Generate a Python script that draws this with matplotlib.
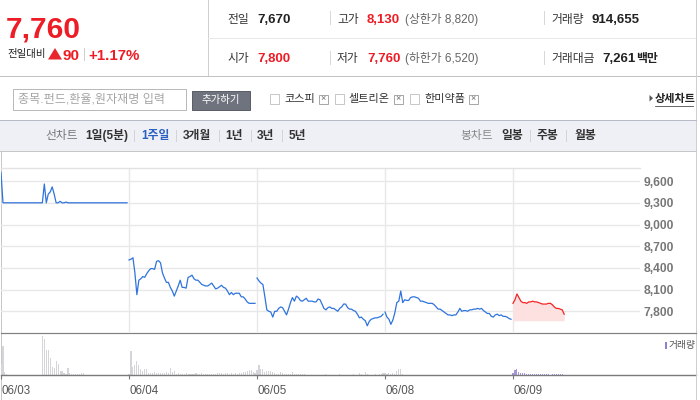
import matplotlib
matplotlib.use('Agg')
import matplotlib.pyplot as plt
from matplotlib.patches import Rectangle, Polygon
from matplotlib.lines import Line2D
import numpy as np

plt.rcParams['font.family'] = ['Liberation Sans', 'Noto Sans CJK KR', 'DejaVu Sans']

# ---------------- data ----------------
day_labels = ['06/03', '06/04', '06/05', '06/08', '06/09']
prev_close = 7670
price_ticks = [7800, 8100, 8400, 8700, 9000, 9300, 9600]

price_0603 = [9720, 9300, 9300, 9300, 9300, 9300, 9300, 9300, 9300, 9300, 9300, 9300, 9300,
              9300, 9300, 9300, 9300, 9300, 9300, 9300, 9300, 9300, 9560, 9300, 9420, 9450,
              9520, 9420, 9300, 9300, 9320, 9300, 9300, 9310, 9300, 9300, 9300, 9300, 9300,
              9300, 9300, 9300, 9300, 9300, 9300, 9300, 9300, 9300, 9300, 9300, 9300, 9300,
              9300, 9300, 9300, 9300, 9300, 9300, 9300, 9300, 9300, 9300, 9300, 9300, 9300]
price_0604 = [8510, 8520, 8540, 8330, 8030, 8230, 8250, 8280, 8270, 8320, 8360, 8390, 8390,
              8380, 8490, 8500, 8470, 8330, 8260, 8200, 8200, 8130, 8080, 8010, 8080, 8150,
              8230, 8130, 8130, 8120, 8270, 8280, 8300, 8250, 8230, 8230, 8200, 8170, 8160,
              8150, 8150, 8170, 8190, 8150, 8110, 8120, 8140, 8160, 8130, 8120, 8080, 8030,
              8060, 8030, 8050, 8050, 8050, 8000, 8000, 7970, 7930, 7910, 7910, 7910, 7910]
price_0605 = [8260, 8220, 8190, 8170, 8000, 7820, 7800, 7790, 7720, 7800, 7800, 7840, 7860,
              7850, 7800, 7750, 7830, 7920, 7990, 7940, 8010, 7990, 7950, 7940, 7960, 7980,
              7940, 7940, 7940, 7930, 7930, 7970, 7960, 7900, 7840, 7820, 7850, 7860, 7840,
              7840, 7820, 7800, 7840, 7860, 7900, 7900, 7850, 7830, 7830, 7810, 7800, 7760,
              7710, 7720, 7690, 7670, 7600, 7660, 7690, 7700, 7710, 7710, 7720, 7730, 7760]
price_0608 = [7790, 7720, 7690, 7620, 7680, 7780, 7920, 7940, 8080, 7920, 7960, 7950, 7950,
              7990, 8000, 8000, 7990, 7980, 7940, 7940, 7930, 7920, 7910, 7910, 7910, 7890,
              7860, 7830, 7830, 7810, 7790, 7770, 7750, 7750, 7740, 7750, 7750, 7790, 7840,
              7800, 7810, 7810, 7800, 7820, 7820, 7830, 7830, 7840, 7830, 7840, 7810, 7790,
              7770, 7770, 7730, 7720, 7750, 7760, 7740, 7750, 7730, 7730, 7720, 7700, 7690]
price_0609 = [7910, 7960, 8040, 7990, 7940, 7920, 7920, 7910, 7930, 7930, 7940, 7930, 7930,
              7920, 7910, 7900, 7900, 7900, 7910, 7910, 7890, 7860, 7840, 7840, 7830, 7820,
              7760]

# volume (thousand shares)
vol_0603 = [175, 440, 50, 15, 10, 10, 8, 10, 10, 8, 10, 10, 10, 8, 10, 10, 10, 8, 10, 10, 10,
            590, 540, 375, 375, 260, 125, 110, 210, 165, 60, 60, 35, 15, 110, 30, 15, 15, 15,
            15, 15, 40, 30, 10, 10, 8, 10, 10, 8, 10, 10, 10, 8, 10, 10, 8, 10, 10, 10, 8,
            10, 10, 8, 10, 10]
vol_0604 = [15, 360, 125, 160, 215, 150, 100, 60, 90, 90, 40, 35, 30, 45, 40, 30, 35, 40, 30,
            50, 35, 110, 45, 60, 25, 30, 25, 20, 25, 30, 20, 25, 20, 25, 30, 25, 20, 40, 15,
            20, 15, 20, 15, 20, 15, 30, 35, 40, 25, 30, 40, 25, 35, 25, 30, 25, 35, 30, 45,
            50, 60, 85, 75, 50, 30]
vol_0605 = [85, 160, 100, 100, 50, 65, 70, 60, 50, 40, 25, 25, 50, 30, 20, 15, 15, 20, 50, 15,
            15, 15, 20, 25, 15, 10, 10, 10, 10, 10, 10, 10, 12, 10, 10, 15, 10, 10, 12, 10,
            10, 10, 15, 10, 10, 12, 10, 10, 10, 15, 10, 10, 35, 15, 10, 55, 20, 10, 10, 10,
            15, 10, 15, 20, 30]
vol_0608 = [30, 25, 40, 25, 30, 20, 65, 100, 100, 15, 8, 8, 10, 8, 6, 8, 8, 10, 8, 8, 6, 8,
            8, 8, 10, 8, 8, 6, 8, 8, 8, 10, 8, 8, 6, 8, 8, 8, 10, 8, 8, 6, 8, 8, 8, 10, 8, 8,
            6, 8, 8, 8, 10, 8, 8, 6, 8, 8, 8, 10, 8, 8, 6, 8, 8]
vol_0609 = [40, 75, 100, 55, 35, 30, 30, 25, 22, 22, 20, 22, 20, 22, 20, 22, 20, 15, 15, 12,
            15, 18, 20, 15, 18, 25, 10]

prices = [price_0603, price_0604, price_0605, price_0608, price_0609]
volumes = [vol_0603, vol_0604, vol_0605, vol_0608, vol_0609]
SLOTS = 65  # intraday samples per full session

# ---------------- figure helpers ----------------
W, H = 700, 400
PX = 0.72
fig = plt.figure(figsize=(7, 4), dpi=100)
fig.patch.set_facecolor('white')
RED = '#ee1c25'


def fx(x):
    return x / W


def fy(y):
    return 1 - y / H


def text(x, y, s, size, color='#333333', weight='normal', ha='left', va='center'):
    fig.text(fx(x), fy(y), s, fontsize=size, color=color, fontweight=weight, ha=ha, va=va)


def rect(x0, y0, x1, y1, fc='none', ec='none', lw=1.0, z=0):
    fig.add_artist(Rectangle((fx(x0), fy(y1)), (x1 - x0) / W, (y1 - y0) / H,
                             transform=fig.transFigure, facecolor=fc, edgecolor=ec,
                             linewidth=lw * PX, zorder=z))


def line(x0, y0, x1, y1, color, lw=1.0, z=1):
    fig.add_artist(Line2D([fx(x0), fx(x1)], [fy(y0), fy(y1)], transform=fig.transFigure,
                          color=color, linewidth=lw * PX, zorder=z))


def poly(pts, color):
    fig.add_artist(Polygon([(fx(a), fy(b)) for a, b in pts], closed=True,
                           transform=fig.transFigure, facecolor=color, edgecolor='none'))


# ---------------- header ----------------
line(208, 0, 208, 76, '#cfcfcf')
line(208, 37.5, 696, 37.5, '#e8e8e8')
line(0, 76, 700, 76, '#c2c2c2')
line(696, 0, 696, 400, '#cfcfcf')

text(5.5, 37.7, '7,760', 21.5, RED, 'bold', va='baseline')
text(7, 53.5, '전일대비', 7.5, '#222222')
poly([(48, 59.5), (62, 59.5), (55, 48)], '#e8262d')
text(62.5, 59.5, '90', 11, RED, 'bold', va='baseline')
line(83.5, 48, 83.5, 60, '#d0d0d0')
text(88.5, 59.5, '+1.17%', 10.8, RED, 'bold', va='baseline')

b1, b2 = 22.7, 62.3
text(227, b1, '전일', 8.5, '#333333', va='baseline')
text(257, b1, '7,670', 9.5, '#222222', 'bold', va='baseline')
text(227, b2, '시가', 8.5, '#333333', va='baseline')
text(257, b2, '7,800', 9.5, RED, 'bold', va='baseline')
line(330, 11, 330, 24, '#d8d8d8')
line(330, 51, 330, 64, '#d8d8d8')
text(337, b1, '고가', 8.5, '#333333', va='baseline')
text(367, b1, '8,130', 9.5, RED, 'bold', va='baseline')
text(405, b1, '(상한가 8,820)', 8.5, '#666666', va='baseline')
text(337, b2, '저가', 8.5, '#333333', va='baseline')
text(367, b2, '7,760', 9.5, RED, 'bold', va='baseline')
text(405, b2, '(하한가 6,520)', 8.5, '#666666', va='baseline')
line(544, 11, 544, 24, '#d8d8d8')
line(544, 51, 544, 64, '#d8d8d8')
text(551, b1, '거래량', 8.5, '#333333', va='baseline')
text(591, b1, '914,655', 9.5, '#222222', 'bold', va='baseline')
text(551, b2, '거래대금', 8.5, '#333333', va='baseline')
text(602, b2, '7,261', 9.5, '#222222', 'bold', va='baseline')
text(636, b2, '백만', 8.5, '#222222', 'bold', va='baseline')

# ---------------- search row ----------------
rect(12.5, 89.5, 185.5, 109.5, fc='white', ec='#b9b9b9')
text(18, 99.5, '종목.펀드,환율,원자재명 입력', 8.7, '#a5a5a5')
rect(191.5, 90.5, 249.5, 109.5, fc='#6f737d', ec='#5b5f68')
text(220.5, 100, '추가하기', 7.5, 'white', ha='center')


def checkbox(x):
    rect(x, 94.5, x + 9.5, 104, fc='white', ec='#c8c8c8')


def xbox(x):
    rect(x, 94.5, x + 9.5, 103.5, fc='white', ec='#a8a8a8')
    text(x + 4.8, 99, '×', 6.5, '#666666', ha='center')


checkbox(269.5)
text(284, 99, '코스피', 8, '#333333')
xbox(318.5)
checkbox(334.5)
text(348, 99, '셀트리온', 8, '#333333')
xbox(393.5)
checkbox(409.5)
text(424, 99, '한미약품', 8, '#333333')
xbox(468.5)
poly([(649.5, 95), (649.5, 101.5), (653, 98.2)], '#555555')
text(655, 98.5, '상세차트', 8, '#222222', 'bold')
line(655, 105.5, 693, 105.5, '#444444', 0.8)

# ---------------- tab row ----------------
rect(0, 120, 696, 150.5, fc='#eef0f5')
line(0, 120, 696, 120, '#b7bbc7')
line(0, 150.5, 696, 150.5, '#c6c6c6')
tabs = [('선차트', 45, '#777777', 'normal'), ('1일(5분)', 85, '#333333', 'bold'),
        ('1주일', 141, '#2b5fc0', 'bold'), ('3개월', 183, '#333333', 'bold'),
        ('1년', 225, '#333333', 'bold'), ('3년', 257, '#333333', 'bold'),
        ('5년', 289, '#333333', 'bold'), ('봉차트', 460, '#888888', 'normal'),
        ('일봉', 501, '#333333', 'bold'), ('주봉', 536.5, '#333333', 'bold'),
        ('월봉', 574, '#333333', 'bold')]
for s, x, c, w in tabs:
    text(x, 135.5, s, 8.5, c, w)
for x in [133.5, 175.5, 218.5, 250.5, 281.5, 529.5, 565.5]:
    line(x, 130, x, 141, '#d2d4da')

# ---------------- chart box ----------------
rect(1, 151, 696, 399.5, ec='#c8c8c8')

# ---------------- price axes ----------------
px_per_won = 21.7 / 300.0
ylo = 7800 - (332 - 311.3) / px_per_won
yhi = 7800 + (311.3 - 168.3) / px_per_won
ax = fig.add_axes([fx(1), fy(332), 639 / W, (332 - 168.3) / H])
ax.set_xlim(0, 639 / 128)
ax.set_ylim(ylo, yhi)
ax.set_facecolor('none')
for v in price_ticks:
    ax.axhline(v, color='#e8e8e8', lw=1.0, zorder=0)
for d in range(1, 5):
    ax.axvline(d, color='#e8e8e8', lw=1.0, zorder=0)
for s in ['left', 'right', 'bottom']:
    ax.spines[s].set_visible(False)
ax.spines['top'].set_color('#e2e2e2')
ax.spines['top'].set_linewidth(1.0)
ax.set_xticks([])
ax.yaxis.tick_right()
ax.set_yticks(price_ticks)
ax.set_yticklabels([f'{v:,}' for v in price_ticks], fontsize=8.7, color='#777777',
                   fontweight='bold')
ax.tick_params(axis='y', length=0, pad=2.5)

for d, p in enumerate(prices):
    xs = d + np.arange(len(p)) / SLOTS
    if d == len(prices) - 1:
        ax.fill_between(xs, p, prev_close, color='#fde1e1', lw=0, zorder=1)
        ax.plot(xs, p, color='#f42424', lw=0.9, zorder=2)
    else:
        ax.plot(xs, p, color='#2f74dc', lw=0.9, zorder=2)

# ---------------- volume axes ----------------
line(1, 332.5, 696, 332.5, '#808080', 1.2, z=3)
ax2 = fig.add_axes([fx(1), fy(375.3), 695 / W, (375.3 - 333) / H])
ax2.set_xlim(0, 695 / 128)
ax2.set_ylim(0, 635)
ax2.set_facecolor('none')
for d, v in enumerate(volumes):
    xs = d + np.arange(len(v)) / SLOTS
    col = '#a597da' if d == len(volumes) - 1 else '#d4d4d9'
    ax2.bar(xs, v, width=1.1 / 128, color=col, linewidth=0, align='center')
for s in ['left', 'right', 'top']:
    ax2.spines[s].set_visible(False)
ax2.spines['bottom'].set_color('#7a7a7a')
ax2.spines['bottom'].set_linewidth(1.0)
ax2.set_yticks([])
ax2.set_xticks(range(len(day_labels)))
ax2.set_xticklabels(day_labels, ha='left', fontsize=8.3, color='#555555')
ax2.tick_params(axis='x', direction='out', length=3, width=0.8, color='#777777', pad=4)

rect(664.5, 341.5, 666.5, 348.5, fc='#8f80cf', z=4)
text(669, 345.2, '거래량', 7, '#555555')

fig.savefig('out.png', dpi=100, facecolor='white')
